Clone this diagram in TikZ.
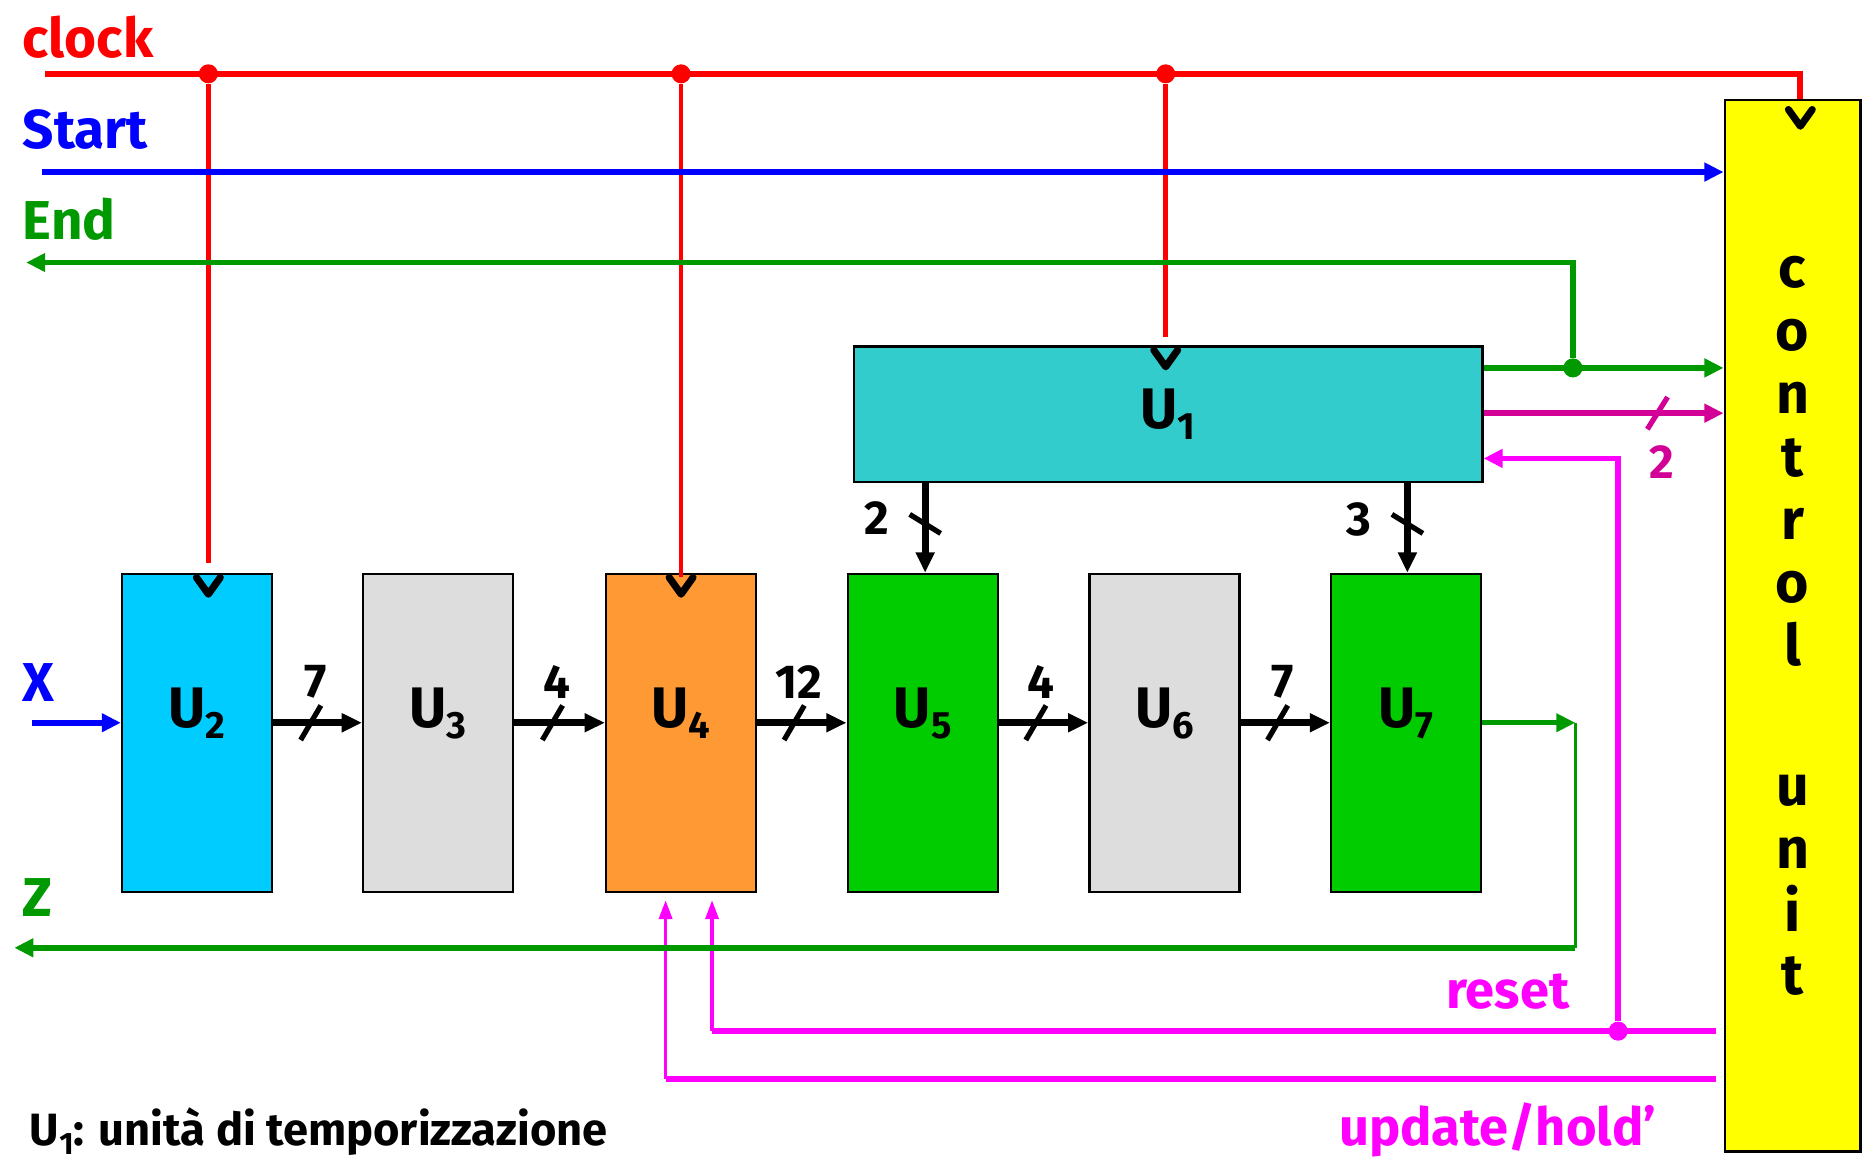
\documentclass[tikz,border=0pt]{standalone}
\usepackage{fontspec}
\setmainfont{Fira Sans}
\usetikzlibrary{arrows.meta,calc}

\definecolor{rosso}{RGB}{255,0,0}
\definecolor{blu}{RGB}{0,0,255}
\definecolor{verde}{RGB}{0,153,0}
\definecolor{fucsia}{RGB}{255,0,255}
\definecolor{porpora}{RGB}{210,0,150}
\definecolor{ciano}{RGB}{0,204,255}
\definecolor{grigio}{RGB}{221,221,221}
\definecolor{arancio}{RGB}{255,153,51}
\definecolor{verdeu}{RGB}{0,204,0}
\definecolor{turchese}{RGB}{51,204,204}
\definecolor{giallo}{RGB}{255,255,0}

\newcommand{\pedice}[2][16]{\raisebox{-0.28\dimexpr#1pt\relax}{\fontsize{#1}{#1}\selectfont #2}}

\begin{document}
\begin{tikzpicture}[x=0.5pt, y=-0.5pt,
  blocco/.style={draw, line width=1pt, inner sep=0pt,
                 font=\bfseries\fontsize{24}{24}\selectfont},
  stadio/.style={blocco, minimum width=63pt, minimum height=133.5pt, text depth=21pt},
  filo/.style={line width=2.4pt},
  sottile/.style={line width=1.5pt},
  punta/.style={-{Triangle[length=8pt,width=7.5pt]}},
  puntina/.style={-{Triangle[length=8pt,width=5.5pt]}},
  bus/.style={line width=2.8pt, -{Triangle[length=8.5pt,width=7.5pt]}},
  taglio/.style={line width=2.2pt},
  giunto/.style={circle, fill, inner sep=0pt, minimum size=8pt},
  numero/.style={font=\bfseries\fontsize{20}{20}\selectfont},
  scritta/.style={font=\bfseries\fontsize{23}{23}\selectfont},
  clk/.pic={\draw[line width=3pt, line cap=round, line join=round] (-10,4) -- (0,18) -- (10,4);}
]
  \useasboundingbox (0,0) rectangle (1568,974);

  % unita' della catena
  \node[stadio, fill=ciano]   (u2) at (165.5,615.5) {U\pedice{2}};
  \node[stadio, fill=grigio]  (u3) at (368,615.5)   {U\pedice{3}};
  \node[stadio, fill=arancio] (u4) at (572,615.5)   {U\pedice{4}};
  \node[stadio, fill=verdeu]  (u5) at (775,615.5)   {U\pedice{5}};
  \node[stadio, fill=grigio]  (u6) at (978,615.5)   {U\pedice{6}};
  \node[stadio, fill=verdeu]  (u7) at (1181,615.5)  {U\pedice{7}};
  \node[blocco, fill=turchese, minimum width=264pt, minimum height=57pt] (u1) at (981,348) {U\pedice{1}};
  \node[blocco, fill=giallo, minimum width=57pt, minimum height=441.5pt, align=center,
        font=\bfseries\fontsize{24}{26.5}\selectfont] (cu) at (1505.5,525.5)
        {c\\o\\n\\t\\r\\o\\l\\[32pt]u\\n\\i\\t};

  % etichette
  \node[scritta, rosso, anchor=base west] (tclock) at (12,48) {clock};
  \node[scritta, blu, anchor=base west] (tstart) at (12,125) {Start};
  \node[scritta, verde, anchor=base west] (tend) at (12,201) {End};
  \node[scritta, blu, anchor=base west] (tx) at (12,589) {X};
  \node[scritta, verde, anchor=base west] (tz) at (12,770) {Z};
  \node[scritta, fucsia, anchor=base east, font=\bfseries\fontsize{22}{22}\selectfont] (treset) at (1325,847) {reset};
  \node[scritta, fucsia, anchor=base east, font=\bfseries\fontsize{22}{22}\selectfont] (tupd) at (1398,962) {update/hold'};
  \node[anchor=base west, font=\bfseries\fontsize{19}{19}\selectfont] (nota) at (18,962)
        {U\pedice[13]{1}: unità di temporizzazione};

  \coordinate (inclk) at (38,62);
  \coordinate (cclk) at (1512,62);
  \coordinate (instart) at (35,144.5);
  \coordinate (outend) at (22,220.5);
  \coordinate (inx) at (26.5,607);
  \coordinate (outz) at (12,796);

  % clock
  \node[giunto, rosso] (c2) at (175,62) {};
  \node[giunto, rosso] (c4) at (572,62) {};
  \node[giunto, rosso] (c1) at (979,62) {};
  \draw[filo, rosso] (inclk) -- (cclk) -- (cu.north -| cclk);
  \draw[line width=2pt, rosso] (c2) -- ($(u2.north -| c2)+(0,-8)$);
  \draw[line width=2pt, rosso] (c4) -- ($(u4.north -| c4)+(0,4)$);
  \draw[line width=2pt, rosso] (c1) -- ($(u1.north -| c1)+(0,-7)$);
  \pic at (u2.north -| c2) {clk};
  \pic at (u4.north -| c4) {clk};
  \pic at (u1.north -| c1) {clk};
  \pic at ($(cu.north -| cclk)+(0,5)$) {clk};

  % Start, End
  \draw[filo, blu, punta] (instart) -- (instart -| cu.west);
  \node[giunto, verde] (g1) at (1321,309) {};
  \draw[filo, verde, punta] (u1.east |- g1) -- (g1 -| cu.west);
  \draw[filo, verde, punta] (g1) |- (outend);

  % uscita a 2 bit di U1
  \coordinate (q) at (1392,347);
  \draw[filo, porpora, punta] (u1.east |- q) -- (q -| cu.west);
  \draw[taglio, porpora] ($(q)+(-8.5,13.5)$) -- ($(q)+(8.5,-13.5)$);
  \node[numero, porpora] (n2cu) at (1396,388) {2};

  % reset e update/hold'
  \node[giunto, fucsia] (g2) at (1359,866) {};
  \coordinate (r4) at (598,866);
  \coordinate (h4) at (559,906);
  \draw[filo, fucsia, shorten <=3pt] (cu.west |- g2) -- (r4);
  \draw[sottile, fucsia, puntina] (r4) -- ($(u4.south -| r4)+(0,6)$);
  \draw[filo, fucsia, shorten <=3pt] (cu.west |- h4) -- (h4);
  \draw[sottile, fucsia, puntina] (h4) -- ($(u4.south -| h4)+(0,6)$);
  \draw[filo, fucsia, punta] (g2) |- ($(u1.east)+(0,37)$);

  % ingresso X, uscita Z
  \draw[filo, blu, punta] (inx) -- (u2.west |- inx);
  \coordinate (k7) at (1323,607);
  \draw[line width=1.9pt, verde, punta] (u7.east |- k7) -- (k7);
  \draw[sottile, verde] (k7) -- (k7 |- outz);
  \draw[line width=2.6pt, verde, punta] (k7 |- outz) -- (outz);

  % bus della catena
  \coordinate (s23) at (261,607);
  \coordinate (s34) at (464,607);
  \coordinate (s45) at (667,607);
  \coordinate (s56) at (870,607);
  \coordinate (s67) at (1073,607);
  \draw[bus] (u2.east |- s23) -- (u3.west |- s23);
  \draw[bus] (u3.east |- s34) -- (u4.west |- s34);
  \draw[bus] (u4.east |- s45) -- (u5.west |- s45);
  \draw[bus] (u5.east |- s56) -- (u6.west |- s56);
  \draw[bus] (u6.east |- s67) -- (u7.west |- s67);
  \draw[taglio] ($(s23)+(-8.5,14.5)$) -- ($(s23)+(8.5,-14.5)$);
  \draw[taglio] ($(s34)+(-8.5,14.5)$) -- ($(s34)+(8.5,-14.5)$);
  \draw[taglio] ($(s45)+(-8.5,14.5)$) -- ($(s45)+(8.5,-14.5)$);
  \draw[taglio] ($(s56)+(-8.5,14.5)$) -- ($(s56)+(8.5,-14.5)$);
  \draw[taglio] ($(s67)+(-8.5,14.5)$) -- ($(s67)+(8.5,-14.5)$);
  \node[numero] (n23) at ($(s23)+(4,-34)$) {7};
  \node[numero] (n34) at ($(s34)+(4,-34)$) {4};
  \node[numero] (n45) at ($(s45)+(4,-34)$) {12};
  \node[numero] (n56) at ($(s56)+(4,-34)$) {4};
  \node[numero] (n67) at ($(s67)+(4,-34)$) {7};

  % bus da U1
  \coordinate (s15) at (777,440);
  \coordinate (s17) at (1182,440);
  \draw[bus] (u1.south -| s15) -- (u5.north -| s15);
  \draw[bus] (u1.south -| s17) -- (u7.north -| s17);
  \draw[taglio] ($(s15)+(-13,-8)$) -- ($(s15)+(13,8)$);
  \draw[taglio] ($(s17)+(-13,-8)$) -- ($(s17)+(13,8)$);
  \node[numero] (n15) at (736,435) {2};
  \node[numero] (n17) at (1141,436) {3};
\end{tikzpicture}
\end{document}
